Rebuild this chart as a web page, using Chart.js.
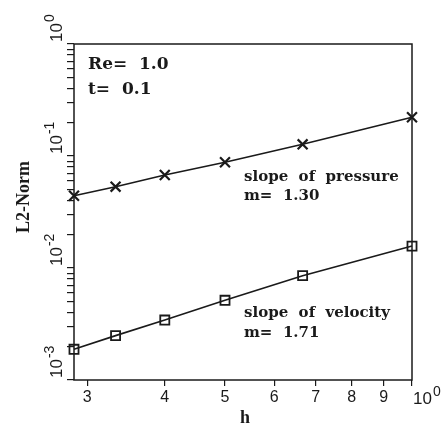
<!DOCTYPE html>
<html>
<head>
<meta charset="utf-8">
<script src="https://cdn.jsdelivr.net/npm/chart.js@4/dist/chart.umd.min.js"></script>
<style>
  html, body { margin: 0; padding: 0; background: #fff; }
  canvas { display: block; }
</style>
</head>
<body>
<canvas id="norm" width="445" height="424"></canvas>
<script>
// grid spacing h and the two error norms
const hValues = [2.857, 3.333, 4, 5, 6.667, 10];
const pressureNorm = [0.0442, 0.0532, 0.0676, 0.0879, 0.1272, 0.2217];
const velocityNorm = [0.00188, 0.00249, 0.00343, 0.00515, 0.00854, 0.0157];

// axis ticks
const xTicks = [3, 4, 5, 6, 7, 8, 9, 10];
const xTickLabels = ['3', '4', '5', '6', '7', '8', '9', '10^0'];
const yDecades = [0.001, 0.01, 0.1, 1];
const yDecadeLabels = ['10^-3', '10^-2', '10^-1', '10^0'];
const yMinorSteps = [1, 2, 3, 4, 5, 6, 7, 8, 9];

const ink = '#1a1a1a';
const noteFont = 'bold 15px "DejaVu Serif"';

function toPoints(ys) {
    return hValues.map((h, i) => ({x: h, y: ys[i]}));
}

function yTickValues() {
    let vals = [];
    yDecades.slice(0, -1).forEach(d => {
        yMinorSteps.forEach(m => vals.push(+(d * m).toPrecision(3)));
    });
    vals.push(yDecades[yDecades.length - 1]);
    return vals;
}

// draws "10" with a raised exponent, horizontally or rotated
function drawPower(ctx, text, big, small) {
    const [base, exp] = text.split('^');
    ctx.font = big;
    ctx.fillText(base, 0, 0);
    const w = ctx.measureText(base).width;
    if (exp !== undefined) {
        ctx.font = small;
        ctx.fillText(exp, w + 1, -8);
    }
}

const decorations = {
    id: 'decorations',
    afterDraw(chart) {
        const {ctx, chartArea, scales} = chart;
        const {left, right, top, bottom} = chartArea;
        ctx.save();

        // frame
        ctx.strokeStyle = ink;
        ctx.lineWidth = 1.5;
        ctx.strokeRect(left, top, right - left, bottom - top);

        ctx.fillStyle = ink;
        ctx.textBaseline = 'alphabetic';

        // x tick labels
        xTicks.forEach((v, i) => {
            const px = scales.x.getPixelForValue(v);
            const label = xTickLabels[i];
            if (label.includes('^')) {
                ctx.save();
                ctx.translate(px + 1, 404);
                ctx.textAlign = 'left';
                drawPower(ctx, label, '17px "Liberation Sans"', '14px "Liberation Sans"');
                ctx.restore();
            } else {
                ctx.font = '16px "Liberation Sans"';
                ctx.textAlign = 'center';
                ctx.fillText(label, px, 402);
            }
        });

        // y decade labels, rotated
        yDecades.forEach((v, i) => {
            const py = scales.y.getPixelForValue(v);
            ctx.save();
            ctx.translate(62, py - 2);
            ctx.rotate(-Math.PI / 2);
            ctx.textAlign = 'left';
            drawPower(ctx, yDecadeLabels[i], '17px "Liberation Sans"', '14px "Liberation Sans"');
            ctx.restore();
        });

        // axis titles
        ctx.font = 'bold 18px "Liberation Serif"';
        ctx.textAlign = 'center';
        ctx.textBaseline = 'top';
        ctx.fillText('h', 245, 409);

        ctx.save();
        ctx.translate(24, 197);
        ctx.rotate(-Math.PI / 2);
        ctx.textBaseline = 'middle';
        ctx.fillText('L2-Norm', 0, 0);
        ctx.restore();

        // annotations
        ctx.textAlign = 'left';
        ctx.textBaseline = 'alphabetic';
        ctx.font = 'bold 17px "DejaVu Serif"';
        ctx.fillText('Re=  1.0', 88, 69);
        ctx.fillText('t=  0.1', 88, 94);

        ctx.font = noteFont;
        ctx.fillText('slope  of  pressure', 244, 181);
        ctx.fillText('m=  1.30', 244, 200);
        ctx.fillText('slope  of  velocity', 244, 317);
        ctx.fillText('m=  1.71', 244, 337);
        ctx.restore();
    }
};

const data = {
    datasets: [
        {
            label: 'pressure',
            data: toPoints(pressureNorm),
            borderColor: ink,
            borderWidth: 1.6,
            pointStyle: 'crossRot',
            pointRadius: 7,
            pointBorderWidth: 2.2,
            pointBorderColor: ink,
            clip: false
        },
        {
            label: 'velocity',
            data: toPoints(velocityNorm),
            borderColor: ink,
            borderWidth: 1.6,
            pointStyle: 'rect',
            pointRadius: 6.4,
            pointBorderWidth: 1.8,
            pointBorderColor: ink,
            pointBackgroundColor: 'rgba(0,0,0,0)',
            clip: false
        }
    ]
};

const config = {
    type: 'line',
    data: data,
    options: {
        responsive: false,
        animation: false,
        devicePixelRatio: 1,
        layout: {
            padding: {left: 44, right: 33, top: 44, bottom: 24}
        },
        plugins: {
            legend: {display: false},
            tooltip: {enabled: false}
        },
        scales: {
            x: {
                type: 'logarithmic',
                min: hValues[0],
                max: 10,
                afterBuildTicks: s => { s.ticks = xTicks.map(v => ({value: v})); },
                afterFit: s => { s.height = 20; },
                ticks: {display: false},
                border: {display: false},
                grid: {
                    drawOnChartArea: false,
                    drawTicks: true,
                    tickLength: 6,
                    color: ink,
                    lineWidth: 1.2
                }
            },
            y: {
                type: 'logarithmic',
                min: 0.001,
                max: 1,
                afterBuildTicks: s => { s.ticks = yTickValues().map(v => ({value: v})); },
                afterFit: s => { s.width = 30; },
                ticks: {display: false},
                border: {display: false},
                grid: {
                    drawOnChartArea: false,
                    drawTicks: true,
                    tickLength: 7,
                    color: ink,
                    lineWidth: 1.2
                }
            }
        }
    },
    plugins: [decorations]
};

const ctx = document.getElementById('norm').getContext('2d');
const normChart = new Chart(ctx, config);
</script>
</body>
</html>
